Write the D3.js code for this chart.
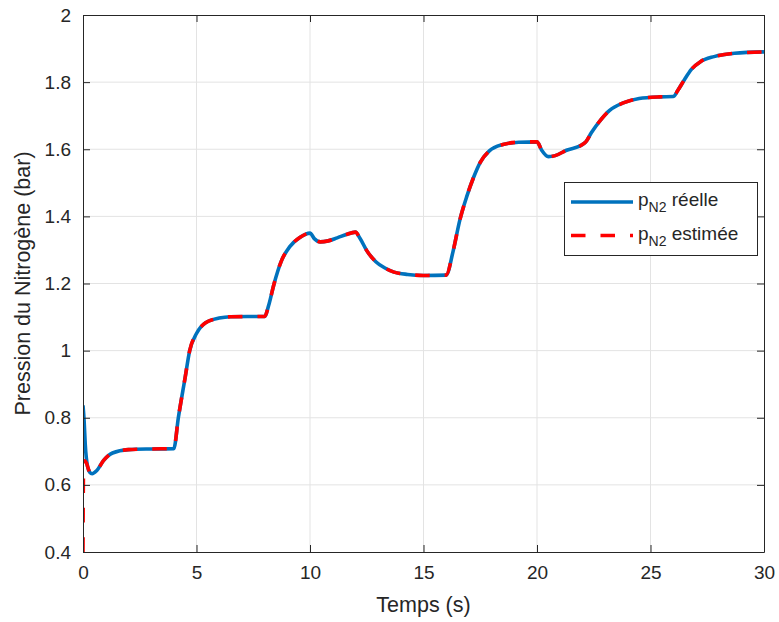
<!DOCTYPE html>
<html>
<head>
<meta charset="utf-8">
<script src="https://cdn.jsdelivr.net/npm/d3@7"></script>
<style>
  body{margin:0;background:#fff;}
  text{font-family:"Liberation Sans",Arial,Helvetica,sans-serif;fill:#262626;}
</style>
</head>
<body>
<div id="chart"></div>
<script>
// data
const temps  = [0,0.05,0.1,0.2,0.3,0.4,0.6,0.9,1.3,2,3,4,4.2,4.5,4.7,5,5.4,6,6.5,8,8.2,8.4,8.75,9.1,9.55,10,10.2,10.45,10.8,11.2,11.6,12,12.2,12.5,12.9,13.3,13.7,14.3,15,16,16.3,16.6,16.9,17.2,17.5,17.9,18.5,19.2,20,20.2,20.5,20.8,21.3,22,22.15,22.4,22.8,23.2,23.8,24.5,25.4,26,26.2,26.5,26.8,27.2,27.8,28.7,30];
const reelle = [0.837,0.79,0.72,0.655,0.637,0.633,0.642,0.672,0.695,0.705,0.707,0.708,0.80,0.92,1.0,1.051,1.083,1.097,1.101,1.102,1.14,1.195,1.269,1.309,1.337,1.35,1.333,1.324,1.327,1.336,1.346,1.353,1.335,1.298,1.265,1.246,1.234,1.227,1.224,1.225,1.295,1.389,1.458,1.515,1.561,1.595,1.614,1.621,1.622,1.598,1.578,1.581,1.597,1.614,1.622,1.65,1.687,1.716,1.738,1.751,1.756,1.757,1.775,1.808,1.838,1.861,1.876,1.886,1.89];
// start of the estimate, after t=0.3 it follows the real curve
const tempsDebut   = [0,0.01,0.03,0.08,0.15,0.25,0.3];
const estimeeDebut = [0.4,0.55,0.665,0.672,0.665,0.645,0.637];
const xTicks = [0,5,10,15,20,25,30];
const yTicks = [0.4,0.6,0.8,1,1.2,1.4,1.6,1.8,2];

const w=779, h=622;
const m={left:83,right:15,top:15,bottom:70};

const svg=d3.select("#chart").append("svg").attr("width",w).attr("height",h);

const x=d3.scaleLinear().domain([0,30]).range([m.left,w-m.right]);
const y=d3.scaleLinear().domain([0.4,2]).range([h-m.bottom,m.top]);

// grid
svg.append("g").selectAll("line").data(xTicks.slice(1,-1)).enter().append("line")
  .attr("x1",d=>x(d)).attr("x2",d=>x(d)).attr("y1",y(0.4)).attr("y2",y(2))
  .attr("stroke","#e3e3e3").attr("stroke-width",1);
svg.append("g").selectAll("line").data(yTicks.slice(1,-1)).enter().append("line")
  .attr("y1",d=>y(d)).attr("y2",d=>y(d)).attr("x1",x(0)).attr("x2",x(30))
  .attr("stroke","#e3e3e3").attr("stroke-width",1);

svg.append("clipPath").attr("id","clip").append("rect")
  .attr("x",x(0)).attr("y",y(2)).attr("width",x(30)-x(0)).attr("height",y(0.4)-y(2));

const line=d3.line().x(d=>x(d[0])).y(d=>y(d[1])).curve(d3.curveMonotoneX);

const ptsReelle=temps.map((t,i)=>[t,reelle[i]]);
const ptsEst=tempsDebut.map((t,i)=>[t,estimeeDebut[i]])
  .concat(temps.map((t,i)=>[t,reelle[i]]).filter(d=>d[0]>0.3));

const plot=svg.append("g").attr("clip-path","url(#clip)");
plot.append("path").datum(ptsReelle).attr("d",line)
  .attr("fill","none").attr("stroke","#0072BD").attr("stroke-width",3.6);
plot.append("path").datum(ptsEst).attr("d",line)
  .attr("fill","none").attr("stroke","#FF0000").attr("stroke-width",3.6)
  .attr("stroke-dasharray","14.5,15");

// axes (box with inner ticks on all sides)
const tl=7;
const xAxisB=d3.axisBottom(x).tickValues(xTicks).tickSizeInner(-tl).tickSizeOuter(0).tickPadding(14).tickFormat(d3.format("d"));
const xAxisT=d3.axisTop(x).tickValues(xTicks).tickSizeInner(-tl).tickSizeOuter(0).tickFormat("");
const yAxisL=d3.axisLeft(y).tickValues(yTicks).tickSizeInner(-tl).tickSizeOuter(0).tickPadding(12).tickFormat(d=>d3.format("~g")(d));
const yAxisR=d3.axisRight(y).tickValues(yTicks).tickSizeInner(-tl).tickSizeOuter(0).tickFormat("");

function style(g){
  g.select(".domain").attr("stroke","#262626");
  g.selectAll(".tick line").attr("stroke","#262626");
  g.selectAll("text").attr("font-size","19px").attr("fill","#262626")
   .attr("font-family","'Liberation Sans',Arial,sans-serif");
}
svg.append("g").attr("transform","translate(0,"+y(0.4)+")").call(xAxisB).call(style);
svg.append("g").attr("transform","translate(0,"+y(2)+")").call(xAxisT).call(style);
svg.append("g").attr("transform","translate("+x(0)+",0)").call(yAxisL).call(style);
svg.append("g").attr("transform","translate("+x(30)+",0)").call(yAxisR).call(style);

// axis labels
svg.append("text").attr("x",(x(0)+x(30))/2).attr("y",612)
  .attr("text-anchor","middle").attr("font-size","21.5px").text("Temps (s)");
svg.append("text").attr("transform","translate(30,"+((y(0.4)+y(2))/2)+") rotate(-90)")
  .attr("text-anchor","middle").attr("font-size","21.5px").text("Pression du Nitrogène (bar)");

// legend
const legend=svg.append("g").attr("id","legend");
legend.append("rect").attr("x",564.5).attr("y",182.5).attr("width",193).attr("height",73)
  .attr("fill","#fff").attr("stroke","#262626").attr("stroke-width",1);
const items=[{label:" réelle",color:"#0072BD",dash:null},{label:" estimée",color:"#FF0000",dash:"14.5,15"}];
items.forEach((it,i)=>{
  const yy=202+i*33.5;
  legend.append("line").attr("x1",571).attr("x2",633).attr("y1",yy).attr("y2",yy)
    .attr("stroke",it.color).attr("stroke-width",3.6).attr("stroke-dasharray",it.dash);
  const t=legend.append("text").attr("x",638).attr("y",yy+4).attr("font-size","19px");
  t.append("tspan").text("p");
  t.append("tspan").attr("font-size","14px").attr("dy",6).text("N2");
  t.append("tspan").attr("dy",-6).text(it.label);
});
</script>
</body>
</html>
